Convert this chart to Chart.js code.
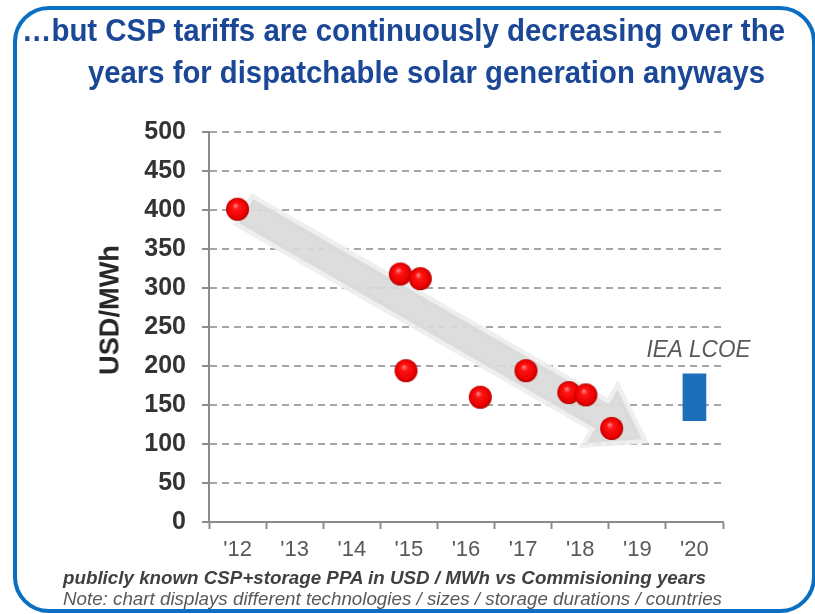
<!DOCTYPE html>
<html>
<head>
<meta charset="utf-8">
<script src="https://cdn.jsdelivr.net/npm/chart.js@4.4.1/dist/chart.umd.min.js"></script>
<style>
  html, body { margin: 0; padding: 0; background: #fff; }
  #page { position: relative; width: 815px; height: 614px; overflow: hidden;
          font-family: Arial, "Liberation Sans", sans-serif; }
  #frame { position: absolute; left: 13px; top: 6px; width: 803px; height: 607px;
           box-sizing: border-box; border: 4px solid #0a6fc1; border-radius: 36px; }
  #chartBox { position: absolute; left: 0; top: 0; width: 815px; height: 614px; }
  .txt { position: absolute; white-space: nowrap; line-height: 1; transform-origin: 0 0; }
  .title { color: #1a4796; font-weight: bold; font-size: 31px; }
  .note1 { color: #404040; font-weight: bold; font-style: italic; font-size: 18px; }
  .note2 { color: #595959; font-style: italic; font-size: 18px; }
  #ytitle { position: absolute; left: 110px; top: 310px; white-space: nowrap; line-height: 1;
            font-weight: bold; font-size: 27px; color: #262626; }
</style>
</head>
<body>
<div id="page">
  <div id="frame"></div>
  <div id="chartBox"><canvas id="c"></canvas></div>
  <div class="txt title" data-w="763" style="left:22px; top:15px">…but CSP tariffs are continuously decreasing over the</div>
  <div class="txt title" data-w="677" style="left:88px; top:57px">years for dispatchable solar generation anyways</div>
  <div id="ytitle" data-w="130">USD/MWh</div>
  <div class="txt note1" data-w="643" style="left:63px; top:569px">publicly known CSP+storage PPA in USD / MWh vs Commisioning years</div>
  <div class="txt note2" data-w="659" style="left:63px; top:590px">Note: chart displays different technologies / sizes / storage durations / countries</div>
</div>
<script>
// commissioning years shown on the category axis
const yearLabels = ["'12", "'13", "'14", "'15", "'16", "'17", "'18", "'19", "'20"];

// PPA tariffs (USD/MWh) against commissioning year
const ppaYear  = [2012.0, 2014.85, 2015.2, 2014.95, 2016.25, 2017.05, 2017.8, 2018.1, 2018.55];
const ppaPrice = [401, 318, 312, 194, 160, 194, 166, 163, 120];

// IEA LCOE range for 2020
const ieaYear = 2020;
const ieaRange = [130, 190];

// trend arrow, tail and head in data units
const trendFrom = [2012.15, 398.5];
const trendTo   = [2019.08, 106];

// fit the html text lines to their widths
document.querySelectorAll('.txt[data-w]').forEach(el => {
  const w = el.getBoundingClientRect().width;
  el.style.transform = 'scaleX(' + (el.dataset.w / w) + ')';
});
(function () {
  const el = document.getElementById('ytitle');
  const r = el.getBoundingClientRect();
  const s = el.dataset.w / r.width;
  el.style.transform = 'translate(-50%, -50%) rotate(-90deg) scaleX(' + s + ')';
})();

// glossy red ball used as point style
function makeBall(r) {
  const c = document.createElement('canvas');
  c.width = c.height = r * 2 + 2;
  const g = c.getContext('2d');
  const cx = r + 1, cy = r + 1;
  const grad = g.createRadialGradient(cx - r * 0.2, cy - r * 0.35, 0, cx, cy, r);
  grad.addColorStop(0, '#ff9090');
  grad.addColorStop(0.3, '#ff1414');
  grad.addColorStop(0.8, '#ec0000');
  grad.addColorStop(1, '#b40000');
  g.fillStyle = grad;
  g.beginPath();
  g.arc(cx, cy, r, 0, Math.PI * 2);
  g.fill();
  return c;
}
const ball = makeBall(11.5);

const trendArrow = {
  id: 'trendArrow',
  beforeDatasetsDraw(chart) {
    const xs = chart.scales.xv, ys = chart.scales.y, ctx = chart.ctx;
    const x0 = xs.getPixelForValue(trendFrom[0]), y0 = ys.getPixelForValue(trendFrom[1]);
    const x1 = xs.getPixelForValue(trendTo[0]), y1 = ys.getPixelForValue(trendTo[1]);
    const len = Math.hypot(x1 - x0, y1 - y0);
    const bw = 14, hw = 31, hl = 46;
    ctx.save();
    ctx.translate(x0, y0);
    ctx.rotate(Math.atan2(y1 - y0, x1 - x0));
    ctx.beginPath();
    ctx.moveTo(0, -bw);
    ctx.lineTo(len - hl, -bw);
    ctx.lineTo(len - hl, -hw);
    ctx.lineTo(len, 0);
    ctx.lineTo(len - hl, hw);
    ctx.lineTo(len - hl, bw);
    ctx.lineTo(0, bw);
    ctx.closePath();
    ctx.globalAlpha = 0.9;
    ctx.lineJoin = 'miter';
    ctx.lineWidth = 9;
    ctx.strokeStyle = '#ededed';
    ctx.stroke();
    ctx.fillStyle = '#d9d9d9';
    ctx.fill();
    ctx.restore();
  }
};

const ieaLabel = {
  id: 'ieaLabel',
  afterDatasetsDraw(chart) {
    const xs = chart.scales.xv, ys = chart.scales.y, ctx = chart.ctx;
    ctx.save();
    ctx.font = 'italic 24px Arial, "Liberation Sans", sans-serif';
    ctx.fillStyle = '#595959';
    ctx.textAlign = 'center';
    ctx.textBaseline = 'alphabetic';
    const x = xs.getPixelForValue(ieaYear) + 4, y = ys.getPixelForValue(ieaRange[1]) - 17;
    ctx.translate(x, y);
    ctx.scale(0.94, 1);
    ctx.fillText('IEA LCOE', 0, 0);
    ctx.restore();
  }
};

new Chart(document.getElementById('c'), {
  type: 'scatter',
  data: {
    datasets: [
      {
        label: 'PPA',
        data: ppaYear.map((x, i) => ({ x: x, y: ppaPrice[i] })),
        pointStyle: ball,
        xAxisID: 'xv',
        yAxisID: 'y',
        order: 1
      },
      {
        type: 'bar',
        label: 'IEA LCOE',
        data: [{ x: ieaYear, y: ieaRange }],
        backgroundColor: '#1c6fb8',
        barThickness: 23,
        xAxisID: 'xv',
        yAxisID: 'y',
        order: 2
      }
    ]
  },
  options: {
    responsive: true,
    maintainAspectRatio: false,
    animation: false,
    events: [],
    layout: { padding: { left: 90, right: 92, top: 132, bottom: 47 } },
    plugins: { legend: { display: false }, tooltip: { enabled: false } },
    scales: {
      xv: { type: 'linear', display: false, min: 2011.5, max: 2020.5, offset: false },
      x: {
        type: 'category',
        labels: yearLabels,
        position: 'bottom',
        offset: true,
        grid: { offset: true, drawOnChartArea: false, tickLength: 7, tickColor: '#8c8c8c', tickWidth: 2 },
        border: { color: '#8c8c8c', width: 2 },
        ticks: { color: '#595959', font: { size: 22, family: 'Arial, "Liberation Sans", sans-serif' }, padding: 8, maxRotation: 0 },
        afterFit: s => { s.height = 45; }
      },
      y: {
        min: 0,
        max: 500,
        ticks: { stepSize: 50, color: '#333333', padding: 16,
                 font: { size: 25, weight: 'bold', family: 'Arial, "Liberation Sans", sans-serif' } },
        grid: {
          color: c => c.tick && c.tick.value === 0 ? 'rgba(0,0,0,0)' : '#a6a6a6',
          lineWidth: 2, tickLength: 7, tickColor: '#8c8c8c', tickWidth: 2, tickBorderDash: []
        },
        border: { color: '#8c8c8c', width: 2, dash: [7, 5] },
        afterFit: s => { s.width = 119; }
      }
    }
  },
  plugins: [trendArrow, ieaLabel]
});
</script>
</body>
</html>
